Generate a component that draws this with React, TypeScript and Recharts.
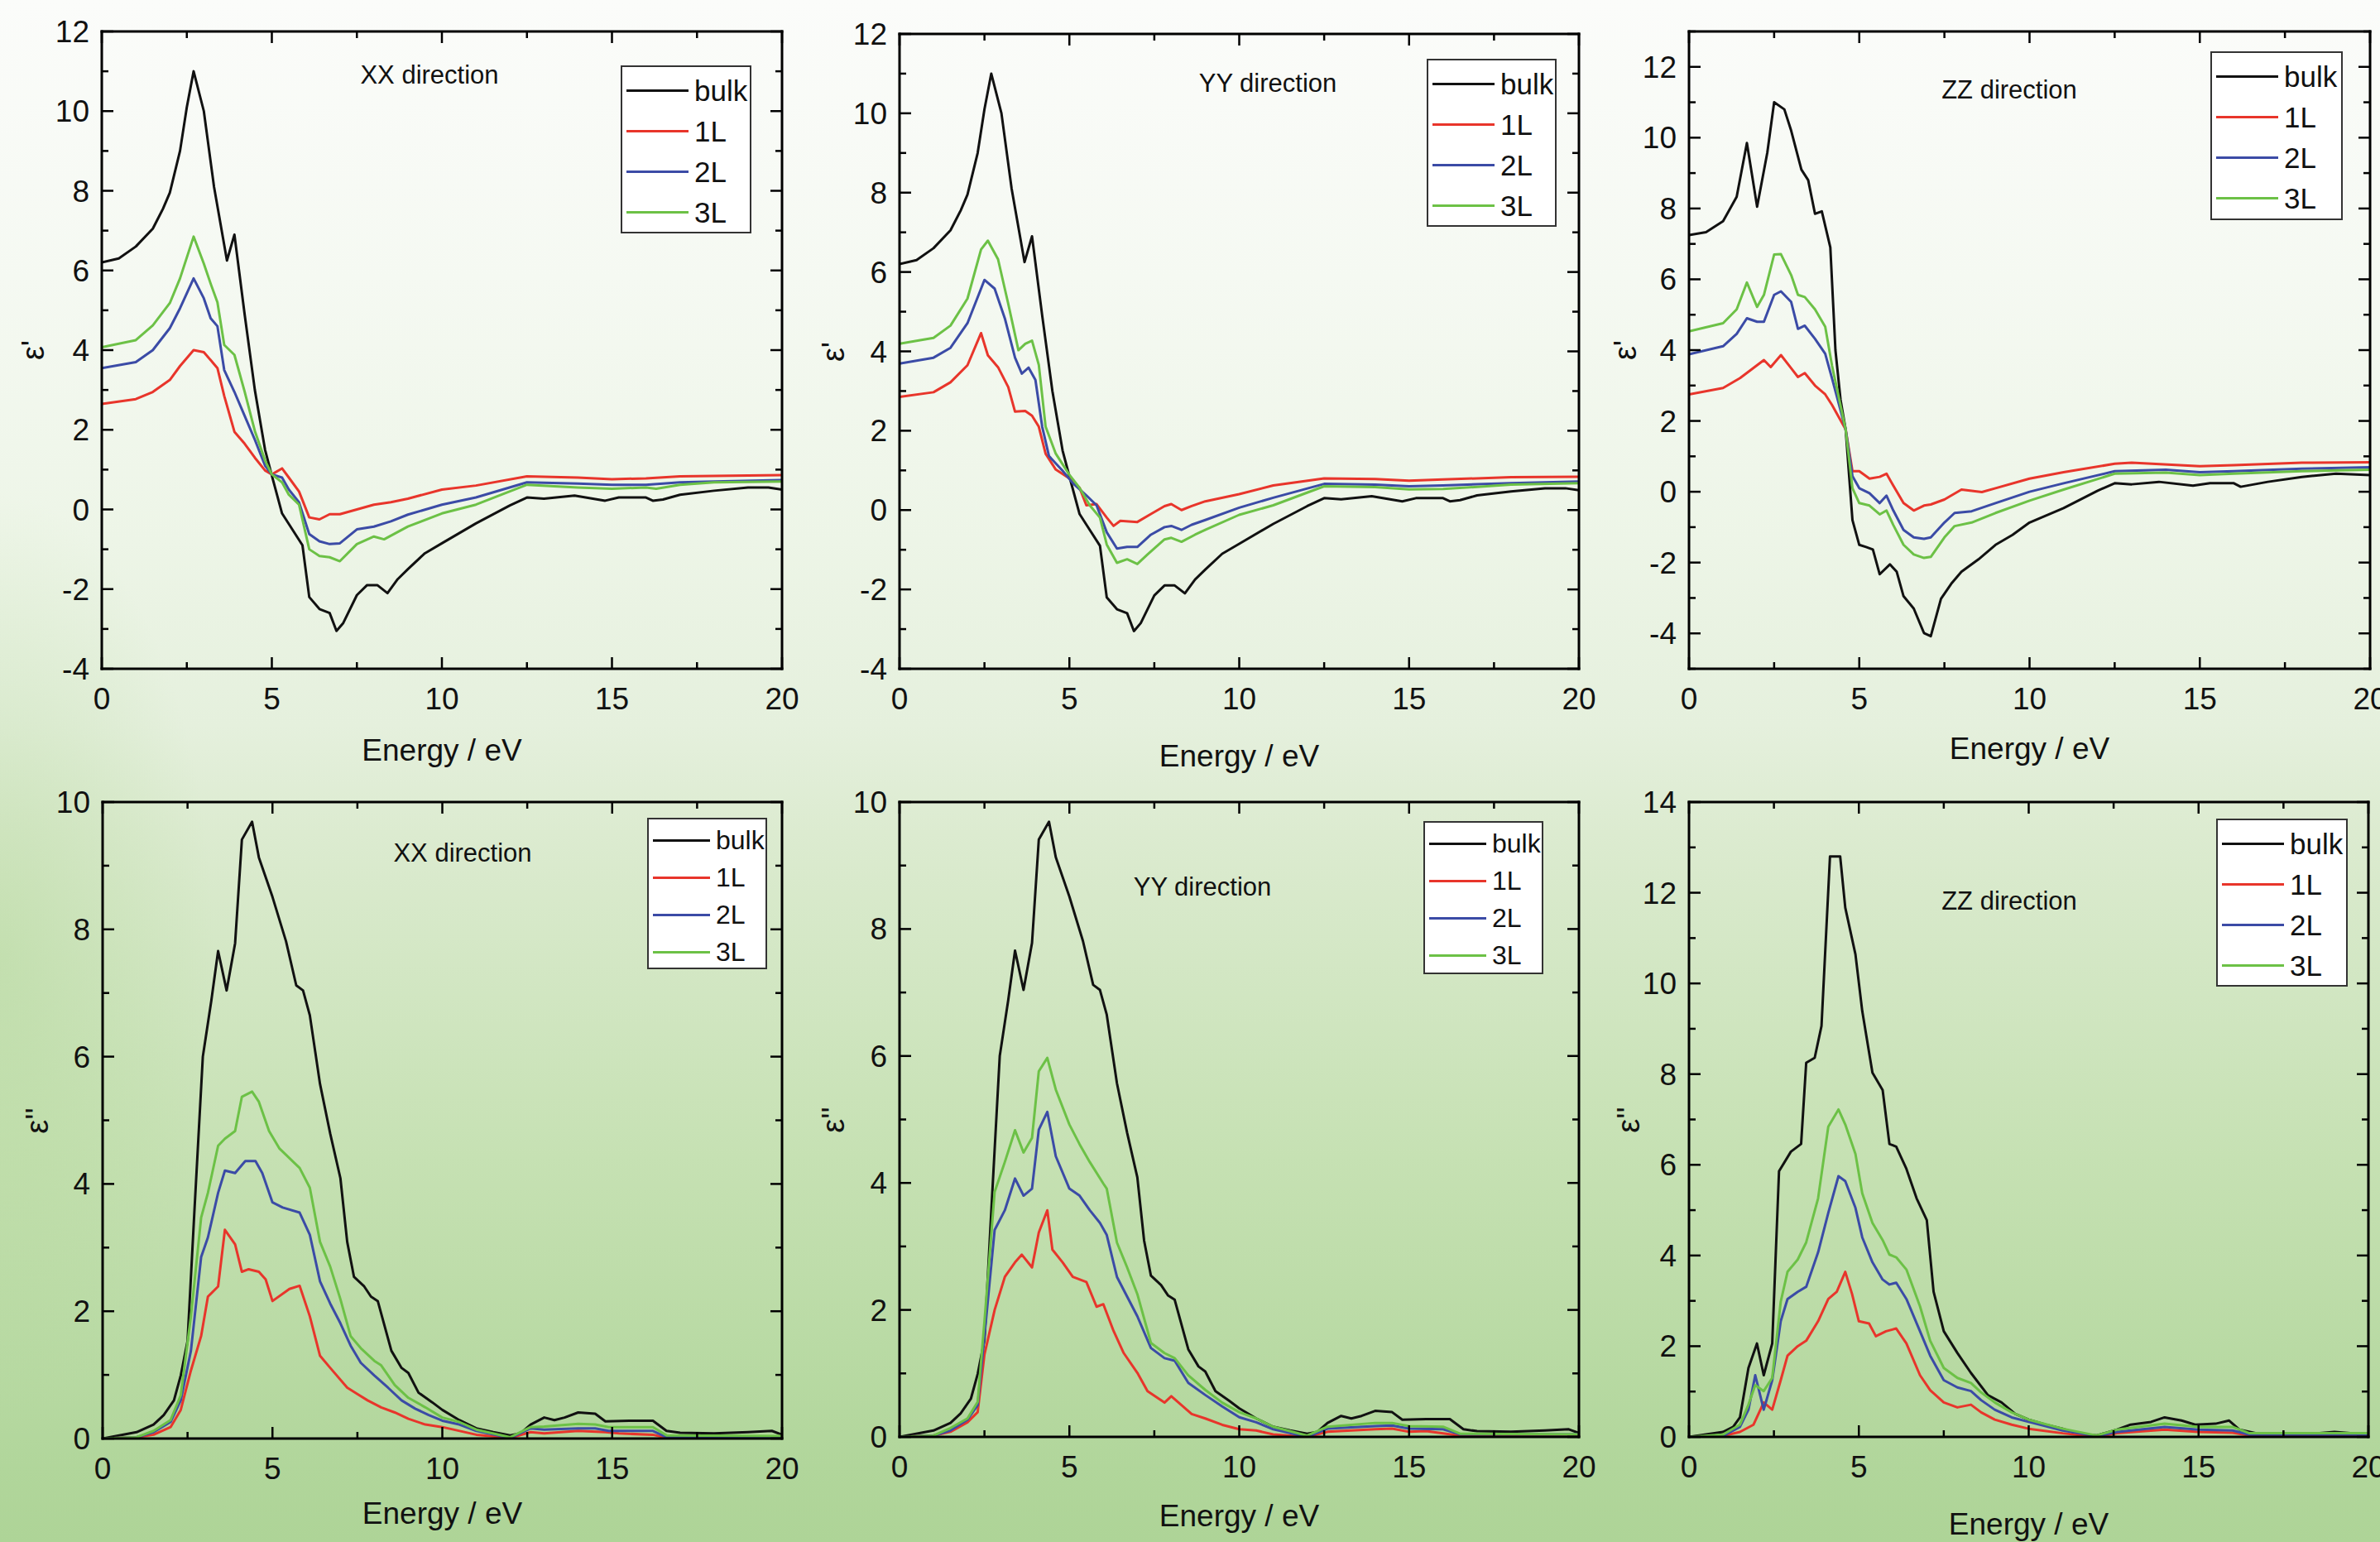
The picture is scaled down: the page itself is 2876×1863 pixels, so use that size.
import { LineChart, Line, XAxis, YAxis } from "recharts";

type Pt = [number, number];

// ---- series / ticks ----
const seriesNames = ["bulk", "1L", "2L", "3L"];
const seriesColors = ["#111111", "#e8352b", "#3b4ba6", "#6cc146"];

const energyTicks = [0, 2.5, 5, 7.5, 10, 12.5, 15, 17.5, 20];
const reInPlaneTicks = [-4, -3, -2, -1, 0, 1, 2, 3, 4, 5, 6, 7, 8, 9, 10, 11, 12];
const reZZTicks = [-5, -4, -3, -2, -1, 0, 1, 2, 3, 4, 5, 6, 7, 8, 9, 10, 11, 12, 13];
const imInPlaneTicks = [0, 1, 2, 3, 4, 5, 6, 7, 8, 9, 10];
const imZZTicks = [0, 1, 2, 3, 4, 5, 6, 7, 8, 9, 10, 11, 12, 13, 14];

// ---- real part, eps' ----
// bulk curve is the same for XX and YY in the figure
const reBulkInPlane: Pt[] = [
  [0, 6.2], [0.5, 6.3], [1, 6.6], [1.5, 7.05], [1.8, 7.55], [2, 7.95], [2.3, 9.0], [2.5, 10.1],
  [2.7, 11.0], [3.0, 10.0], [3.3, 8.1], [3.68, 6.25], [3.9, 6.9], [4.2, 4.9], [4.5, 3.0],
  [4.8, 1.5], [5.0, 0.85], [5.3, -0.1], [5.6, -0.5], [5.9, -0.9], [6.1, -2.2], [6.4, -2.5],
  [6.7, -2.6], [6.9, -3.05], [7.1, -2.85], [7.5, -2.15], [7.8, -1.9], [8.1, -1.9], [8.4, -2.1],
  [8.7, -1.75], [9.0, -1.5], [9.5, -1.1], [10, -0.85], [11, -0.35], [12, 0.1], [12.5, 0.3],
  [13, 0.27], [13.9, 0.35], [14.8, 0.22], [15.2, 0.3], [16, 0.3], [16.2, 0.22], [16.5, 0.25],
  [17, 0.37], [18, 0.47], [19, 0.55], [19.6, 0.55], [20, 0.5],
];
const reXX1L: Pt[] = [
  [0, 2.65], [1, 2.77], [1.5, 2.95], [2, 3.25], [2.3, 3.6], [2.7, 4.0], [3.0, 3.95], [3.4, 3.55],
  [3.6, 2.85], [3.9, 1.95], [4.2, 1.65], [4.5, 1.3], [4.8, 0.98], [5.0, 0.88], [5.3, 1.03],
  [5.5, 0.8], [5.8, 0.45], [6.1, -0.2], [6.4, -0.25], [6.7, -0.12], [7.0, -0.12], [7.5, 0.0],
  [8, 0.12], [8.5, 0.18], [9, 0.27], [10, 0.5], [11, 0.6], [12.5, 0.83], [14, 0.8], [15, 0.76],
  [16, 0.78], [17, 0.83], [18, 0.84], [20, 0.86],
];
const reXX2L: Pt[] = [
  [0, 3.55], [1, 3.7], [1.5, 4.0], [2, 4.55], [2.3, 5.05], [2.7, 5.8], [3.0, 5.3], [3.2, 4.8],
  [3.4, 4.6], [3.6, 3.5], [3.9, 2.95], [4.2, 2.35], [4.5, 1.75], [4.8, 1.1], [5.0, 0.88],
  [5.3, 0.8], [5.5, 0.5], [5.8, 0.18], [6.1, -0.62], [6.4, -0.8], [6.7, -0.87], [7.0, -0.85],
  [7.5, -0.5], [8, -0.43], [8.5, -0.3], [9, -0.13], [10, 0.12], [11, 0.3], [12.5, 0.68],
  [14, 0.65], [15, 0.62], [16, 0.62], [17, 0.68], [18, 0.7], [20, 0.74],
];
const reXX3L: Pt[] = [
  [0, 4.07], [1, 4.25], [1.5, 4.62], [2, 5.18], [2.3, 5.8], [2.7, 6.85], [3.0, 6.17], [3.2, 5.67],
  [3.4, 5.2], [3.6, 4.13], [3.9, 3.88], [4.2, 2.96], [4.5, 1.97], [4.8, 1.23], [5.0, 0.88],
  [5.3, 0.68], [5.5, 0.37], [5.8, 0.12], [6.1, -1.0], [6.4, -1.17], [6.7, -1.2], [7.0, -1.3],
  [7.5, -0.87], [8, -0.68], [8.3, -0.75], [9, -0.43], [10, -0.1], [11, 0.12], [12.5, 0.62],
  [14, 0.55], [15, 0.52], [16, 0.55], [16.3, 0.52], [17, 0.62], [18, 0.68], [20, 0.7],
];
const reYY1L: Pt[] = [
  [0, 2.85], [1, 2.97], [1.5, 3.22], [2, 3.65], [2.4, 4.46], [2.6, 3.9], [2.9, 3.6], [3.2, 3.1],
  [3.4, 2.48], [3.7, 2.5], [3.9, 2.38], [4.1, 2.1], [4.3, 1.42], [4.6, 1.02], [5.0, 0.8],
  [5.3, 0.56], [5.5, 0.12], [5.8, 0.15], [6.1, -0.19], [6.3, -0.4], [6.5, -0.27], [7.0, -0.3],
  [7.4, -0.1], [7.8, 0.1], [8.0, 0.15], [8.3, 0.0], [8.6, 0.1], [9, 0.22], [10, 0.4], [11, 0.62],
  [12.5, 0.8], [14, 0.78], [15, 0.74], [16, 0.77], [18, 0.83], [20, 0.84],
];
const reYY2L: Pt[] = [
  [0, 3.69], [1, 3.84], [1.5, 4.09], [2, 4.71], [2.5, 5.8], [2.8, 5.58], [3.1, 4.83], [3.4, 3.84],
  [3.6, 3.44], [3.8, 3.59], [4.0, 3.28], [4.2, 2.1], [4.4, 1.36], [4.8, 0.99], [5.1, 0.68],
  [5.5, 0.37], [5.8, 0.12], [6.1, -0.56], [6.4, -0.97], [6.7, -0.93], [7.0, -0.93], [7.4, -0.62],
  [7.8, -0.43], [8.0, -0.4], [8.3, -0.5], [8.6, -0.37], [9, -0.25], [10, 0.06], [11, 0.31],
  [12.5, 0.66], [14, 0.64], [15, 0.6], [16, 0.62], [18, 0.68], [20, 0.72],
];
const reYY3L: Pt[] = [
  [0, 4.19], [1, 4.34], [1.5, 4.65], [2, 5.33], [2.4, 6.57], [2.6, 6.79], [2.9, 6.32], [3.2, 5.2],
  [3.5, 4.03], [3.7, 4.19], [3.9, 4.27], [4.1, 3.66], [4.3, 2.1], [4.6, 1.42], [5.0, 0.89],
  [5.3, 0.56], [5.6, 0.12], [5.9, -0.19], [6.1, -0.87], [6.4, -1.33], [6.7, -1.24], [7.0, -1.36],
  [7.3, -1.12], [7.8, -0.74], [8.0, -0.7], [8.3, -0.8], [8.7, -0.62], [9, -0.5], [10, -0.12],
  [11, 0.12], [12.5, 0.6], [14, 0.58], [15, 0.52], [16, 0.53], [18, 0.64], [20, 0.68],
];
const reZZBulk: Pt[] = [
  [0, 7.25], [0.5, 7.33], [1, 7.64], [1.4, 8.33], [1.7, 9.85], [2.0, 8.05], [2.3, 9.58],
  [2.5, 11.0], [2.8, 10.8], [3.0, 10.2], [3.3, 9.1], [3.5, 8.8], [3.7, 7.85], [3.9, 7.92],
  [4.15, 6.9], [4.3, 4.0], [4.45, 2.6], [4.6, 1.76], [4.8, -0.8], [5.0, -1.5], [5.2, -1.56],
  [5.4, -1.63], [5.6, -2.33], [5.9, -2.05], [6.1, -2.26], [6.3, -2.95], [6.6, -3.3], [6.9, -3.99],
  [7.1, -4.08], [7.4, -3.02], [7.7, -2.6], [8.0, -2.26], [8.5, -1.91], [9, -1.5], [9.5, -1.22],
  [10, -0.87], [11, -0.46], [12, 0.03], [12.5, 0.24], [13, 0.21], [13.8, 0.28], [14.8, 0.17],
  [15.3, 0.24], [16, 0.24], [16.2, 0.14], [17, 0.28], [18, 0.42], [19, 0.51], [20, 0.47],
];
const reZZ1L: Pt[] = [
  [0, 2.75], [1, 2.93], [1.5, 3.21], [2.2, 3.72], [2.4, 3.52], [2.7, 3.86], [3.0, 3.49],
  [3.2, 3.24], [3.4, 3.35], [3.7, 3.0], [4.0, 2.75], [4.2, 2.45], [4.6, 1.76], [4.8, 0.58],
  [5.0, 0.58], [5.3, 0.37], [5.6, 0.42], [5.8, 0.51], [6.0, 0.17], [6.3, -0.32], [6.6, -0.53],
  [6.9, -0.39], [7.1, -0.36], [7.5, -0.22], [8.0, 0.06], [8.6, -0.01], [9, 0.1], [10, 0.37],
  [11, 0.55], [12.5, 0.79], [13, 0.82], [15, 0.72], [16, 0.75], [18, 0.82], [20, 0.83],
];
const reZZ2L: Pt[] = [
  [0, 3.88], [1, 4.11], [1.4, 4.46], [1.7, 4.9], [2.0, 4.8], [2.2, 4.8], [2.5, 5.56], [2.7, 5.66],
  [3.0, 5.36], [3.2, 4.6], [3.4, 4.69], [3.7, 4.32], [4.0, 3.9], [4.2, 3.2], [4.6, 1.76],
  [4.8, 0.44], [5.0, 0.1], [5.3, -0.04], [5.6, -0.32], [5.8, -0.11], [6.0, -0.53], [6.3, -1.08],
  [6.6, -1.29], [6.9, -1.33], [7.1, -1.29], [7.5, -0.87], [7.8, -0.6], [8.3, -0.55], [9, -0.32],
  [10, 0.0], [11, 0.24], [12.5, 0.58], [14, 0.62], [15, 0.55], [16, 0.58], [18, 0.65], [20, 0.69],
];
const reZZ3L: Pt[] = [
  [0, 4.53], [1, 4.76], [1.4, 5.15], [1.7, 5.91], [2.0, 5.22], [2.2, 5.56], [2.5, 6.7], [2.7, 6.71],
  [3.0, 6.12], [3.2, 5.56], [3.4, 5.5], [3.7, 5.15], [4.0, 4.66], [4.2, 3.56], [4.6, 1.76],
  [4.8, 0.1], [5.0, -0.32], [5.3, -0.39], [5.6, -0.64], [5.8, -0.53], [6.0, -0.94], [6.3, -1.5],
  [6.6, -1.77], [6.9, -1.87], [7.1, -1.84], [7.5, -1.29], [7.8, -0.97], [8.3, -0.87], [9, -0.6],
  [10, -0.25], [11, 0.06], [12.5, 0.51], [14, 0.54], [15, 0.47], [16, 0.51], [18, 0.58], [20, 0.62],
];

// ---- imaginary part, eps'' ----
const imBulkInPlane: Pt[] = [
  [0, 0], [1, 0.1], [1.5, 0.22], [1.8, 0.37], [2.1, 0.6], [2.3, 0.99], [2.5, 1.53], [2.7, 3.55],
  [2.95, 6.0], [3.2, 6.88], [3.4, 7.66], [3.65, 7.04], [3.9, 7.78], [4.1, 9.41], [4.4, 9.69],
  [4.6, 9.13], [5.0, 8.51], [5.4, 7.81], [5.7, 7.12], [5.9, 7.04], [6.1, 6.65], [6.4, 5.57],
  [6.7, 4.79], [7.0, 4.09], [7.2, 3.09], [7.4, 2.54], [7.7, 2.39], [7.9, 2.23], [8.1, 2.16],
  [8.5, 1.38], [8.8, 1.11], [9.0, 1.03], [9.3, 0.72], [9.7, 0.57], [10, 0.45], [10.5, 0.29],
  [11, 0.16], [11.5, 0.1], [12, 0.05], [12.3, 0.08], [12.6, 0.22], [13, 0.33], [13.3, 0.29],
  [13.6, 0.33], [14.0, 0.41], [14.5, 0.39], [14.8, 0.27], [15.5, 0.28], [16.2, 0.28], [16.6, 0.12],
  [17, 0.09], [18, 0.08], [19, 0.1], [19.7, 0.12], [20, 0.06],
];
const imXX1L: Pt[] = [
  [0, 0], [1, 0.02], [1.5, 0.06], [2, 0.18], [2.3, 0.45], [2.6, 1.07], [2.9, 1.61], [3.1, 2.23],
  [3.4, 2.39], [3.6, 3.28], [3.9, 3.05], [4.1, 2.62], [4.3, 2.66], [4.6, 2.62], [4.8, 2.5],
  [5.0, 2.16], [5.5, 2.35], [5.8, 2.4], [6.1, 1.92], [6.4, 1.3], [6.7, 1.11], [7.2, 0.8], [7.5, 0.7],
  [7.8, 0.6], [8.2, 0.49], [8.6, 0.41], [9, 0.31], [9.5, 0.22], [10, 0.18], [11, 0.06], [12, 0.01],
  [12.6, 0.1], [13, 0.08], [14, 0.12], [14.8, 0.1], [15.2, 0.08], [16.2, 0.06], [16.6, 0.01], [20, 0.01],
];
const imXX2L: Pt[] = [
  [0, 0], [1, 0.02], [1.5, 0.1], [2, 0.26], [2.3, 0.6], [2.6, 1.38], [2.9, 2.85], [3.1, 3.16],
  [3.4, 3.86], [3.6, 4.21], [3.9, 4.17], [4.2, 4.36], [4.5, 4.36], [4.7, 4.17], [5.0, 3.71],
  [5.3, 3.63], [5.8, 3.55], [6.1, 3.2], [6.4, 2.47], [6.7, 2.12], [7.0, 1.81], [7.3, 1.46],
  [7.6, 1.19], [8.0, 0.99], [8.4, 0.8], [8.8, 0.6], [9.2, 0.47], [9.6, 0.37], [10, 0.28],
  [10.5, 0.22], [11, 0.12], [12, 0.01], [12.6, 0.16], [13, 0.14], [14, 0.16], [14.5, 0.16],
  [14.9, 0.12], [16.2, 0.12], [16.6, 0.02], [20, 0.02],
];
const imXX3L: Pt[] = [
  [0, 0], [1, 0.02], [1.5, 0.12], [2, 0.29], [2.3, 0.68], [2.6, 1.92], [2.9, 3.47], [3.1, 3.86],
  [3.4, 4.6], [3.6, 4.71], [3.9, 4.83], [4.1, 5.37], [4.4, 5.45], [4.6, 5.29], [4.9, 4.83],
  [5.2, 4.56], [5.8, 4.25], [6.1, 3.94], [6.4, 3.09], [6.7, 2.7], [7.0, 2.19], [7.3, 1.61],
  [7.6, 1.42], [8.0, 1.22], [8.2, 1.15], [8.6, 0.84], [9.0, 0.64], [9.5, 0.49], [10, 0.33],
  [10.5, 0.26], [11, 0.14], [12, 0.02], [12.6, 0.18], [13, 0.19], [14, 0.23], [14.5, 0.22],
  [14.9, 0.18], [16.2, 0.18], [16.6, 0.05], [20, 0.04],
];
const imYY1L: Pt[] = [
  [0, 0], [1, 0.02], [1.5, 0.08], [2, 0.23], [2.3, 0.39], [2.5, 1.3], [2.8, 2.0], [3.1, 2.52],
  [3.4, 2.75], [3.6, 2.87], [3.9, 2.67], [4.1, 3.22], [4.35, 3.57], [4.5, 2.95], [4.8, 2.75],
  [5.1, 2.52], [5.5, 2.44], [5.8, 2.05], [6.0, 2.09], [6.3, 1.67], [6.6, 1.32], [7.0, 1.01],
  [7.3, 0.72], [7.8, 0.54], [8.0, 0.64], [8.3, 0.5], [8.6, 0.36], [9, 0.29], [9.5, 0.19],
  [10, 0.12], [10.5, 0.1], [11, 0.04], [12, 0], [12.6, 0.08], [14, 0.12], [14.5, 0.13], [15, 0.08],
  [15.5, 0.09], [16.5, 0.02], [20, 0.02],
];
const imYY2L: Pt[] = [
  [0, 0], [1, 0.02], [1.5, 0.1], [2, 0.27], [2.3, 0.5], [2.5, 1.59], [2.8, 3.26], [3.1, 3.57],
  [3.4, 4.07], [3.65, 3.8], [3.9, 3.91], [4.1, 4.84], [4.35, 5.12], [4.6, 4.42], [5.0, 3.91],
  [5.3, 3.8], [5.6, 3.57], [5.9, 3.37], [6.1, 3.18], [6.4, 2.52], [6.7, 2.21], [7.0, 1.9],
  [7.4, 1.4], [7.8, 1.24], [8.1, 1.2], [8.5, 0.85], [9, 0.66], [9.5, 0.48], [10, 0.31],
  [10.5, 0.23], [11, 0.12], [12, 0], [12.6, 0.13], [14, 0.17], [14.5, 0.18], [15, 0.13],
  [16, 0.12], [16.5, 0.04], [20, 0.04],
];
const imYY3L: Pt[] = [
  [0, 0], [1, 0.02], [1.5, 0.14], [2, 0.29], [2.3, 0.55], [2.5, 1.82], [2.8, 3.86], [3.1, 4.33],
  [3.4, 4.83], [3.65, 4.48], [3.9, 4.71], [4.1, 5.76], [4.35, 5.97], [4.6, 5.47], [5.0, 4.92],
  [5.3, 4.61], [5.6, 4.33], [6.0, 3.99], [6.1, 3.91], [6.4, 3.06], [6.7, 2.67], [7.0, 2.25],
  [7.4, 1.48], [7.8, 1.32], [8.1, 1.24], [8.5, 0.97], [9, 0.74], [9.5, 0.54], [10, 0.39],
  [10.5, 0.29], [11, 0.16], [12, 0.02], [12.6, 0.16], [14, 0.22], [14.5, 0.22], [15, 0.17],
  [16, 0.16], [16.5, 0.05], [20, 0.04],
];
const imZZBulk: Pt[] = [
  [0, 0], [1, 0.11], [1.3, 0.22], [1.5, 0.43], [1.75, 1.52], [2.0, 2.06], [2.2, 1.36], [2.45, 2.06],
  [2.65, 5.86], [3.0, 6.29], [3.3, 6.46], [3.45, 8.25], [3.7, 8.36], [3.9, 9.06], [4.15, 12.8],
  [4.45, 12.8], [4.6, 11.67], [4.9, 10.64], [5.1, 9.39], [5.4, 8.03], [5.7, 7.65], [5.9, 6.46],
  [6.1, 6.4], [6.4, 5.91], [6.7, 5.26], [7.0, 4.78], [7.2, 3.2], [7.5, 2.33], [7.9, 1.85],
  [8.3, 1.41], [8.8, 0.92], [9.2, 0.76], [9.6, 0.51], [10, 0.38], [10.5, 0.27], [11, 0.18],
  [11.5, 0.05], [12, 0.03], [12.6, 0.16], [13, 0.27], [13.6, 0.33], [14, 0.43], [14.5, 0.36],
  [14.9, 0.27], [15.5, 0.29], [15.9, 0.36], [16.2, 0.16], [16.7, 0.08], [18, 0.05], [19, 0.11],
  [20, 0.05],
];
const imZZ1L: Pt[] = [
  [0, 0], [1, 0.02], [1.5, 0.11], [1.9, 0.27], [2.2, 0.76], [2.45, 0.6], [2.7, 1.25], [2.9, 1.79],
  [3.2, 2.0], [3.45, 2.12], [3.8, 2.55], [4.1, 3.04], [4.35, 3.2], [4.6, 3.64], [4.8, 3.15],
  [5.0, 2.55], [5.3, 2.5], [5.5, 2.22], [5.8, 2.33], [6.1, 2.39], [6.4, 2.06], [6.8, 1.36],
  [7.1, 1.03], [7.5, 0.76], [7.9, 0.65], [8.3, 0.71], [8.6, 0.54], [9, 0.38], [9.5, 0.27],
  [10, 0.18], [11, 0.08], [12, 0], [12.6, 0.08], [14, 0.16], [15, 0.11], [16, 0.09], [16.5, 0.03],
  [20, 0.03],
];
const imZZ2L: Pt[] = [
  [0, 0], [1, 0.02], [1.5, 0.22], [1.75, 0.6], [1.95, 1.36], [2.2, 0.6], [2.45, 1.25], [2.7, 2.55],
  [2.9, 3.04], [3.2, 3.2], [3.45, 3.31], [3.8, 4.07], [4.1, 4.94], [4.4, 5.75], [4.6, 5.64],
  [4.9, 5.05], [5.1, 4.4], [5.4, 3.85], [5.7, 3.47], [5.9, 3.36], [6.1, 3.4], [6.4, 3.04],
  [6.8, 2.33], [7.1, 1.79], [7.5, 1.25], [7.9, 1.09], [8.3, 1.01], [8.6, 0.81], [9, 0.6],
  [9.5, 0.43], [10, 0.33], [11, 0.14], [12, 0.02], [12.6, 0.11], [14, 0.22], [15, 0.16],
  [16, 0.14], [16.5, 0.05], [20, 0.05],
];
const imZZ3L: Pt[] = [
  [0, 0], [1, 0.05], [1.5, 0.27], [1.75, 0.71], [1.95, 1.14], [2.2, 1.01], [2.45, 1.3], [2.7, 2.98],
  [2.9, 3.64], [3.2, 3.91], [3.45, 4.29], [3.8, 5.26], [4.1, 6.84], [4.4, 7.22], [4.6, 6.89],
  [4.9, 6.24], [5.1, 5.37], [5.4, 4.72], [5.7, 4.34], [5.9, 4.02], [6.1, 3.96], [6.4, 3.69],
  [6.8, 2.88], [7.1, 2.12], [7.5, 1.52], [7.9, 1.3], [8.3, 1.19], [8.6, 0.98], [9, 0.76],
  [9.5, 0.54], [10, 0.38], [11, 0.18], [12, 0.03], [12.6, 0.16], [14, 0.29], [15, 0.22],
  [16, 0.22], [16.5, 0.08], [20, 0.08],
];

// ---- layout ----
const FONT = '"Liberation Sans", Arial, Helvetica, sans-serif';
const PAD_L = 130;
const PAD_R = 40;
const PAD_T = 30;
const PAD_B = 70;
const MAJOR = 14;
const MINOR = 8;
const LINE_W = 3;
const AXIS = { stroke: "#000", strokeWidth: 3, strokeLinecap: "square" as const };

type Legend = { left: number; top: number; width: number; height: number; first: number; gap: number; lineLen: number; font: number };
type PanelCfg = {
  plot: { left: number; top: number; right: number; bottom: number };
  yDomain: [number, number];
  yTicks: number[];
  yLabel: string;
  yLabelX: number;
  dir: string;
  dirX: number;
  dirY: number;
  titleY: number;
  legend: Legend;
  series: Pt[][];
};

const panels: PanelCfg[] = [
  {
    plot: { left: 123, top: 38, right: 945, bottom: 808 },
    yDomain: [-4, 12], yTicks: reInPlaneTicks, yLabel: "ε'", yLabelX: 40,
    dir: "XX direction", dirX: 519, dirY: 90, titleY: 906,
    legend: { left: 750, top: 79, width: 158, height: 203, first: 28, gap: 49, lineLen: 75, font: 35 },
    series: [reBulkInPlane, reXX1L, reXX2L, reXX3L],
  },
  {
    plot: { left: 1087, top: 41, right: 1908, bottom: 808 },
    yDomain: [-4, 12], yTicks: reInPlaneTicks, yLabel: "ε'", yLabelX: 1007,
    dir: "YY direction", dirX: 1532, dirY: 100, titleY: 913,
    legend: { left: 1724, top: 71, width: 157, height: 203, first: 28, gap: 49, lineLen: 75, font: 35 },
    series: [reBulkInPlane, reYY1L, reYY2L, reYY3L],
  },
  {
    plot: { left: 2041, top: 38, right: 2864, bottom: 808 },
    yDomain: [-5, 13], yTicks: reZZTicks, yLabel: "ε'", yLabelX: 1964,
    dir: "ZZ direction", dirX: 2428, dirY: 108, titleY: 904,
    legend: { left: 2671, top: 62, width: 160, height: 204, first: 28, gap: 49, lineLen: 75, font: 35 },
    series: [reZZBulk, reZZ1L, reZZ2L, reZZ3L],
  },
  {
    plot: { left: 124, top: 969, right: 945, bottom: 1738 },
    yDomain: [0, 10], yTicks: imInPlaneTicks, yLabel: "ε''", yLabelX: 45,
    dir: "XX direction", dirX: 559, dirY: 1030, titleY: 1828,
    legend: { left: 782, top: 988, width: 145, height: 183, first: 25, gap: 45, lineLen: 69, font: 32 },
    series: [imBulkInPlane, imXX1L, imXX2L, imXX3L],
  },
  {
    plot: { left: 1087, top: 969, right: 1908, bottom: 1736 },
    yDomain: [0, 10], yTicks: imInPlaneTicks, yLabel: "ε''", yLabelX: 1007,
    dir: "YY direction", dirX: 1453, dirY: 1071, titleY: 1831,
    legend: { left: 1720, top: 992, width: 145, height: 185, first: 25, gap: 45, lineLen: 69, font: 32 },
    series: [imBulkInPlane, imYY1L, imYY2L, imYY3L],
  },
  {
    plot: { left: 2041, top: 969, right: 2862, bottom: 1736 },
    yDomain: [0, 14], yTicks: imZZTicks, yLabel: "ε''", yLabelX: 1968,
    dir: "ZZ direction", dirX: 2428, dirY: 1088, titleY: 1841,
    legend: { left: 2678, top: 989, width: 159, height: 203, first: 28, gap: 49, lineLen: 75, font: 35 },
    series: [imZZBulk, imZZ1L, imZZ2L, imZZ3L],
  },
];

// ---- inward ticks, Origin style ----
const bottomTick = (props: any) => {
  const { x, y, payload } = props;
  const v = payload.value;
  const major = v % 5 === 0;
  return (
    <g>
      <line x1={x} x2={x} y1={y} y2={y - (major ? MAJOR : MINOR)} stroke="#000" strokeWidth={2.5} />
      {major && (
        <text x={x} y={y + 49} textAnchor="middle" fontSize={37} fontFamily={FONT} fill="#111">
          {v}
        </text>
      )}
    </g>
  );
};
const topTick = (props: any) => {
  const { x, y, payload } = props;
  const major = payload.value % 5 === 0;
  return <line x1={x} x2={x} y1={y} y2={y + (major ? MAJOR : MINOR)} stroke="#000" strokeWidth={2.5} />;
};
const leftTick = (props: any) => {
  const { x, y, payload } = props;
  const v = payload.value;
  const major = v % 2 === 0;
  return (
    <g>
      <line x1={x} x2={x + (major ? MAJOR : MINOR)} y1={y} y2={y} stroke="#000" strokeWidth={2.5} />
      {major && (
        <text x={x - 15} y={y + 13} textAnchor="end" fontSize={37} fontFamily={FONT} fill="#111">
          {v}
        </text>
      )}
    </g>
  );
};
const rightTick = (props: any) => {
  const { x, y, payload } = props;
  const major = payload.value % 2 === 0;
  return <line x1={x} x2={x - (major ? MAJOR : MINOR)} y1={y} y2={y} stroke="#000" strokeWidth={2.5} />;
};

function LegendBox({ lg }: { lg: Legend }) {
  return (
    <div
      style={{
        position: "absolute", left: lg.left, top: lg.top, width: lg.width, height: lg.height,
        border: "2px solid #333", background: "#fff", boxSizing: "border-box",
      }}
    >
      {seriesNames.map((name, i) => (
        <div key={name}>
          <div
            style={{
              position: "absolute", left: 5, top: lg.first + i * lg.gap - LINE_W / 2,
              width: lg.lineLen, height: LINE_W, background: seriesColors[i],
            }}
          />
          <div
            style={{
              position: "absolute", left: lg.lineLen + 12, top: lg.first + i * lg.gap,
              transform: "translateY(-50%)", fontSize: lg.font, lineHeight: 1, color: "#111",
            }}
          >
            {name}
          </div>
        </div>
      ))}
    </div>
  );
}

function Panel({ cfg }: { cfg: PanelCfg }) {
  const { plot } = cfg;
  const w = plot.right - plot.left + PAD_L + PAD_R;
  const h = plot.bottom - plot.top + PAD_T + PAD_B;
  const midX = (plot.left + plot.right) / 2;
  const midY = (plot.top + plot.bottom) / 2;
  return (
    <>
      <div style={{ position: "absolute", left: plot.left - PAD_L, top: plot.top - PAD_T }}>
        <LineChart width={w} height={h} margin={{ top: PAD_T - 1, right: PAD_R - 1, bottom: 0, left: 0 }}>
          <XAxis
            xAxisId="b" type="number" dataKey="x" domain={[0, 20]} ticks={energyTicks} interval={0}
            height={PAD_B} tickSize={0} tickMargin={0} tickLine={false} axisLine={AXIS}
            tick={bottomTick} allowDataOverflow
          />
          <XAxis
            xAxisId="t" orientation="top" type="number" dataKey="x" domain={[0, 20]} ticks={energyTicks}
            interval={0} height={1} tickSize={0} tickMargin={0} tickLine={false} axisLine={AXIS}
            tick={topTick} allowDataOverflow
          />
          <YAxis
            yAxisId="l" type="number" domain={cfg.yDomain} ticks={cfg.yTicks} interval={0} width={PAD_L}
            tickSize={0} tickMargin={0} tickLine={false} axisLine={AXIS} tick={leftTick} allowDataOverflow
          />
          <YAxis
            yAxisId="r" orientation="right" type="number" domain={cfg.yDomain} ticks={cfg.yTicks}
            interval={0} width={1} tickSize={0} tickMargin={0} tickLine={false} axisLine={AXIS}
            tick={rightTick} allowDataOverflow
          />
          {cfg.series.map((s, i) => (
            <Line
              key={seriesNames[i]}
              xAxisId="b"
              yAxisId="l"
              data={s.map(([x, y]) => ({ x, y }))}
              dataKey="y"
              name={seriesNames[i]}
              type="linear"
              stroke={seriesColors[i]}
              strokeWidth={LINE_W}
              strokeLinejoin="round"
              dot={false}
              isAnimationActive={false}
            />
          ))}
        </LineChart>
      </div>
      <div
        style={{
          position: "absolute", left: cfg.dirX, top: cfg.dirY, transform: "translate(-50%, -50%)",
          fontSize: 31, lineHeight: 1, whiteSpace: "nowrap", color: "#111",
        }}
      >
        {cfg.dir}
      </div>
      <div
        style={{
          position: "absolute", left: midX, top: cfg.titleY, transform: "translate(-50%, -50%)",
          fontSize: 37, lineHeight: 1, whiteSpace: "nowrap", color: "#111",
        }}
      >
        Energy / eV
      </div>
      <div
        style={{
          position: "absolute", left: cfg.yLabelX, top: midY, transform: "translate(-50%, -50%) rotate(-90deg)",
          fontSize: 38, lineHeight: 1, whiteSpace: "nowrap", color: "#111",
        }}
      >
        {cfg.yLabel}
      </div>
      <LegendBox lg={cfg.legend} />
    </>
  );
}

export default function App() {
  return (
    <div
      style={{
        position: "absolute", left: 0, top: 0, width: 2876, height: 1863, overflow: "hidden",
        fontFamily: FONT,
        background:
          "radial-gradient(ellipse 9% 30% at 0% 62%, rgba(165,208,135,0.35) 0%, rgba(165,208,135,0) 100%), " +
          "linear-gradient(180deg, #fbfcfa 0%, #f5f9f2 18%, #edf5e7 35%, #e5f0dd 47%, #dcebd0 54%, #c6e1b3 75%, #b1d69b 95%, #aed497 100%)",
      }}
    >
      {panels.map((p, i) => (
        <Panel key={i} cfg={p} />
      ))}
    </div>
  );
}
